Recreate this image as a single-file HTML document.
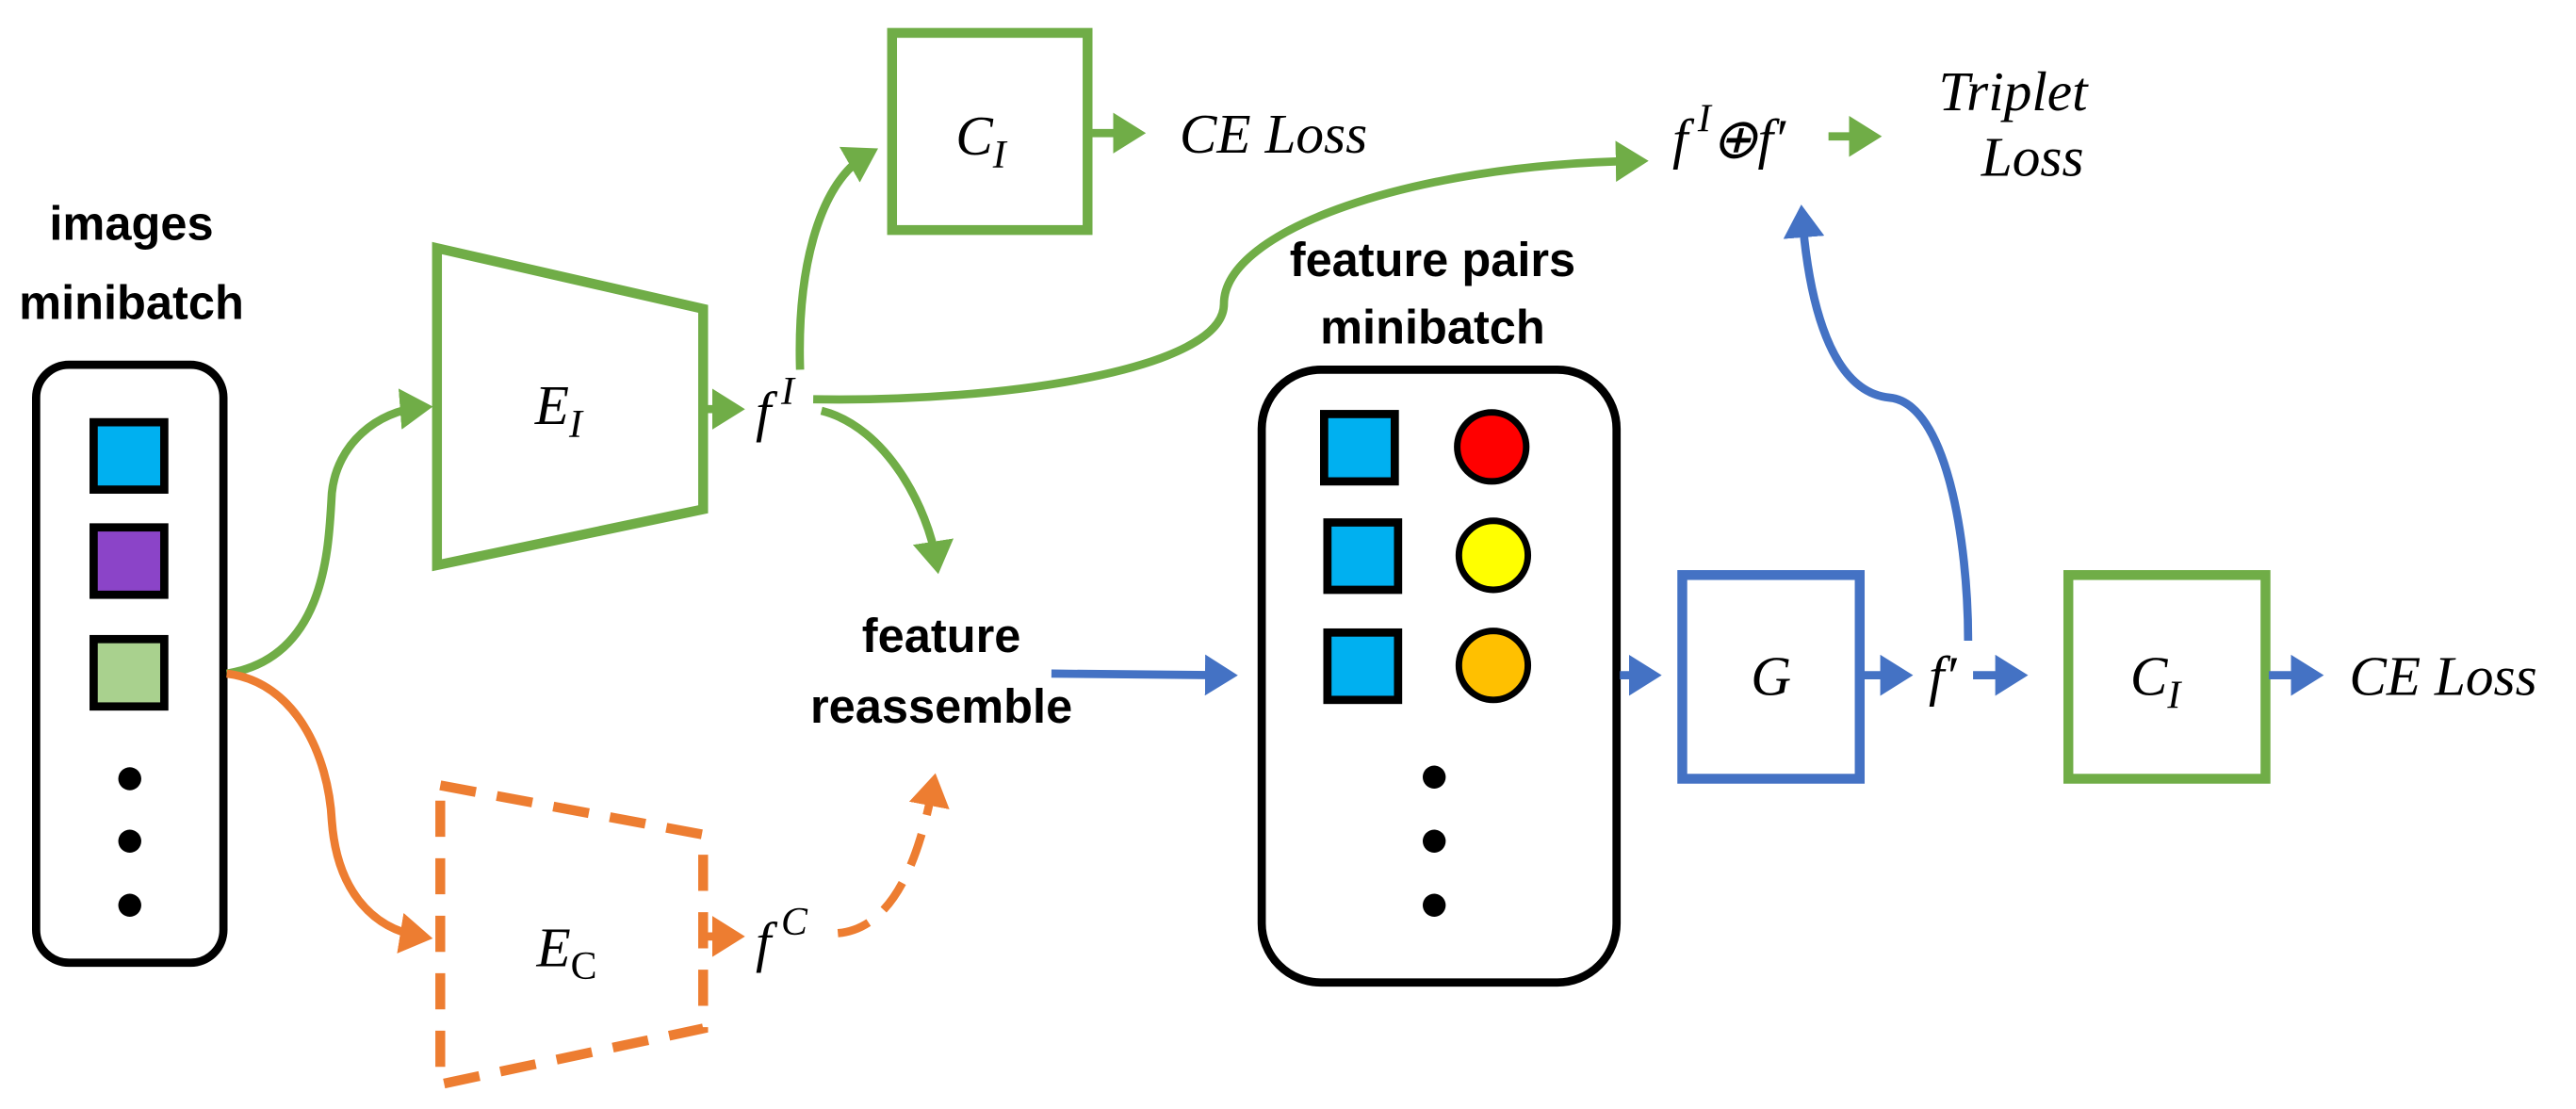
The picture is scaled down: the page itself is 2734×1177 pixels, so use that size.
<!DOCTYPE html>
<html><head><meta charset="utf-8"><style>
html,body{margin:0;padding:0;background:#fff;}
svg{display:block;}
.m{font-family:"Liberation Serif",serif;font-style:italic;font-size:34px;fill:#000;}
.b{font-family:"Liberation Sans",sans-serif;font-weight:bold;font-size:29px;fill:#000;}
</style></head><body>
<svg width="2734" height="1177" viewBox="0 0 1568 675" xmlns="http://www.w3.org/2000/svg">
<defs>
<marker id="ag" markerWidth="5" markerHeight="5" refX="2.5" refY="2.5" orient="auto" markerUnits="strokeWidth"><path d="M0,0 L4,2.5 L0,5 z" fill="#70AD47"/></marker>
<marker id="ao" markerWidth="5" markerHeight="5" refX="2.5" refY="2.5" orient="auto" markerUnits="strokeWidth"><path d="M0,0 L4,2.5 L0,5 z" fill="#ED7D31"/></marker>
<marker id="ab" markerWidth="5" markerHeight="5" refX="2.5" refY="2.5" orient="auto" markerUnits="strokeWidth"><path d="M0,0 L4,2.5 L0,5 z" fill="#4472C4"/></marker>
</defs>

<text class="b" x="80" y="146" text-anchor="middle">images</text>
<text class="b" x="80" y="194" text-anchor="middle">minibatch</text>
<rect x="22" y="222" width="114" height="364" rx="20" fill="#fff" stroke="#000" stroke-width="5"/>
<rect x="57" y="257" width="43" height="41" fill="#00B0F0" stroke="#000" stroke-width="5"/>
<rect x="57" y="321" width="43" height="41" fill="#8B44C8" stroke="#000" stroke-width="5"/>
<rect x="57" y="389" width="43" height="41" fill="#A9D18E" stroke="#000" stroke-width="5"/>
<circle cx="79" cy="474" r="7"/><circle cx="79" cy="512" r="7"/><circle cx="79" cy="551" r="7"/>

<path d="M138,410 C200,400 200,330 202,300 C205,270 230,250 256,248" fill="none" stroke="#70AD47" stroke-width="5" marker-end="url(#ag)"/>
<path d="M138,410 C180,415 200,460 202,500 C205,540 225,565 256,570" fill="none" stroke="#ED7D31" stroke-width="5" marker-end="url(#ao)"/>

<polygon points="266,151 428,188 428,310 266,344" fill="none" stroke="#70AD47" stroke-width="6"/>
<text class="m" x="340" y="258" text-anchor="middle">E<tspan font-size="24" dy="8">I</tspan></text>
<line x1="430" y1="249" x2="446" y2="249" stroke="#70AD47" stroke-width="5" marker-end="url(#ag)"/>
<text class="m" x="460" y="262">f<tspan font-size="24" dy="-16" dx="6">I</tspan></text>

<polygon points="268,478 428,508 428,626 268,660" fill="none" stroke="#ED7D31" stroke-width="6" stroke-dasharray="22,13"/>
<text class="m" x="345" y="588" text-anchor="middle">E<tspan font-size="24" dy="8" font-style="normal">C</tspan></text>
<line x1="430" y1="570" x2="446" y2="570" stroke="#ED7D31" stroke-width="5" marker-end="url(#ao)"/>
<text class="m" x="460" y="585">f<tspan font-size="24" dy="-16" dx="6">C</tspan></text>
<path d="M510,568 C545,565 560,520 568,478" fill="none" stroke="#ED7D31" stroke-width="5" stroke-dasharray="20,12" marker-end="url(#ao)"/>

<path d="M487,225 C485,160 500,110 528,94" fill="none" stroke="#70AD47" stroke-width="5" marker-end="url(#ag)"/>
<rect x="543" y="20" width="119" height="120" fill="none" stroke="#70AD47" stroke-width="6"/>
<text class="m" x="597" y="94" text-anchor="middle">C<tspan font-size="24" dy="8">I</tspan></text>
<line x1="665" y1="81" x2="690" y2="81" stroke="#70AD47" stroke-width="5" marker-end="url(#ag)"/>
<text class="m" x="718" y="93">CE Loss</text>

<path d="M495,243 C610,245 745,225 745,185 C745,140 860,100 996,98" fill="none" stroke="#70AD47" stroke-width="5" marker-end="url(#ag)"/>
<path d="M500,250 C540,260 565,310 570,342" fill="none" stroke="#70AD47" stroke-width="5" marker-end="url(#ag)"/>

<text class="b" x="573" y="397" text-anchor="middle">feature</text>
<text class="b" x="573" y="440" text-anchor="middle">reassemble</text>
<line x1="640" y1="410" x2="746" y2="411" stroke="#4472C4" stroke-width="5" marker-end="url(#ab)"/>

<text class="b" x="872" y="168" text-anchor="middle">feature pairs</text>
<text class="b" x="872" y="209" text-anchor="middle">minibatch</text>
<rect x="768" y="225" width="216" height="373" rx="36" fill="#fff" stroke="#000" stroke-width="5"/>
<rect x="806" y="252" width="43" height="41" fill="#00B0F0" stroke="#000" stroke-width="5"/>
<rect x="808" y="318" width="43" height="41" fill="#00B0F0" stroke="#000" stroke-width="5"/>
<rect x="808" y="385" width="43" height="41" fill="#00B0F0" stroke="#000" stroke-width="5"/>
<circle cx="908" cy="272" r="21" fill="#FF0000" stroke="#000" stroke-width="4"/>
<circle cx="909" cy="338" r="21" fill="#FFFF00" stroke="#000" stroke-width="4"/>
<circle cx="909" cy="405" r="21" fill="#FFC000" stroke="#000" stroke-width="4"/>
<circle cx="873" cy="473" r="7"/><circle cx="873" cy="512" r="7"/><circle cx="873" cy="551" r="7"/>

<line x1="986" y1="411" x2="1004" y2="411" stroke="#4472C4" stroke-width="5" marker-end="url(#ab)"/>
<rect x="1024" y="350" width="108" height="124" fill="none" stroke="#4472C4" stroke-width="6"/>
<text class="m" x="1078" y="423" text-anchor="middle">G</text>
<line x1="1134" y1="411" x2="1157" y2="411" stroke="#4472C4" stroke-width="5" marker-end="url(#ab)"/>
<text class="m" x="1174" y="423">f′</text>
<line x1="1201" y1="411" x2="1227" y2="411" stroke="#4472C4" stroke-width="5" marker-end="url(#ab)"/>
<rect x="1259" y="350" width="120" height="124" fill="none" stroke="#70AD47" stroke-width="6"/>
<text class="m" x="1312" y="423" text-anchor="middle">C<tspan font-size="24" dy="8">I</tspan></text>
<line x1="1381" y1="411" x2="1407" y2="411" stroke="#4472C4" stroke-width="5" marker-end="url(#ab)"/>
<text class="m" x="1430" y="423">CE Loss</text>

<path d="M1198,390 C1198,330 1185,245 1150,242 C1110,238 1100,170 1097,132" fill="none" stroke="#4472C4" stroke-width="5" marker-end="url(#ab)"/>

<text class="m" x="1018" y="96">f<tspan font-size="24" dy="-16" dx="6">I</tspan><tspan dy="16">⊕f′</tspan></text>
<line x1="1113" y1="83" x2="1138" y2="83" stroke="#70AD47" stroke-width="5" marker-end="url(#ag)"/>
<text class="m" x="1180" y="67">Triplet</text>
<text class="m" x="1206" y="107">Loss</text>
</svg>
</body></html>
